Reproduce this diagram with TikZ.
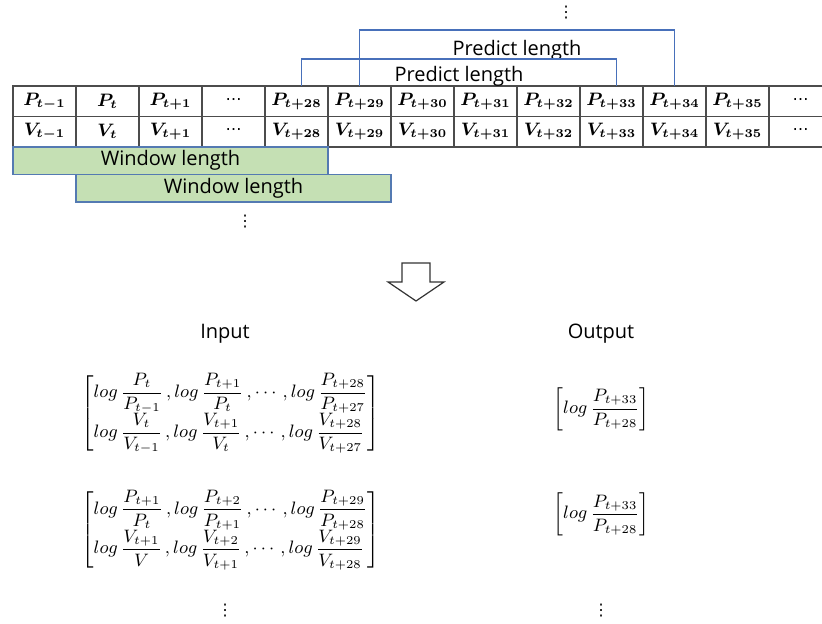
\documentclass[tikz,border=0pt]{standalone}
\usepackage{amsmath}
\usepackage{bm}
\usepackage{fontspec}
\setsansfont{Open Sans}
\newfontfamily\dotfont{DejaVu Sans}
\usetikzlibrary{positioning}

\definecolor{winfill}{RGB}{197,224,180}
\definecolor{winline}{RGB}{84,122,178}
\definecolor{predline}{RGB}{72,112,186}
\newcommand{\pcell}[1]{$\bm{P_{#1}}$}
\newcommand{\vcell}[1]{$\bm{V_{#1}}$}
\newcommand{\celldots}{{\dotfont\fontsize{8}{8}\selectfont ⋯}}
\newcommand{\logfrac}[2]{log\,\dfrac{#1}{#2}}
\newcommand{\moredots}{{\dotfont ⋮}}

\begin{document}
\begin{tikzpicture}[x=0.5pt, y=0.5pt,
  cell/.style = {draw = black!70, line width = 0.8pt, shape = rectangle, minimum width = 31.5pt, minimum height = 15.25pt, inner sep = 0pt, outer sep = 0pt, font = \fontsize{9}{10}\selectfont},
  window/.style = {draw = winline, fill = winfill, line width = 0.6pt, shape = rectangle, minimum width = 157.5pt, minimum height = 13.75pt, inner sep = 0pt, outer sep = 0pt, font = \sffamily\fontsize{10}{12}\selectfont},
  predict/.style = {draw = predline, line width = 0.6pt},
  lbl/.style = {font = \sffamily\fontsize{10}{12}\selectfont},
  vdot/.style = {font = \fontsize{8}{8}\selectfont, inner sep = 0pt},
  mat/.style = {inner sep = 0pt, font = \fontsize{8.8}{10.5}\selectfont}]
\useasboundingbox (0,0) rectangle (822,624);

% price row
\node[cell] (pm1) at (44.5,522.75) {\pcell{t-1}};
\node[cell, right = 0pt of pm1] (p0) {\pcell{t}};
\node[cell, right = 0pt of p0] (p1) {\pcell{t+1}};
\node[cell, right = 0pt of p1] (pdots) {\celldots};
\node[cell, right = 0pt of pdots] (p28) {\pcell{t+28}};
\node[cell, right = 0pt of p28] (p29) {\pcell{t+29}};
\node[cell, right = 0pt of p29] (p30) {\pcell{t+30}};
\node[cell, right = 0pt of p30] (p31) {\pcell{t+31}};
\node[cell, right = 0pt of p31] (p32) {\pcell{t+32}};
\node[cell, right = 0pt of p32] (p33) {\pcell{t+33}};
\node[cell, right = 0pt of p33] (p34) {\pcell{t+34}};
\node[cell, right = 0pt of p34] (p35) {\pcell{t+35}};
\node[cell, right = 0pt of p35] (pend) {\celldots};

% volume row
\node[cell, below = 0pt of pm1] (vm1) {\vcell{t-1}};
\node[cell, below = 0pt of p0] (v0) {\vcell{t}};
\node[cell, below = 0pt of p1] (v1) {\vcell{t+1}};
\node[cell, below = 0pt of pdots] (vdots) {\celldots};
\node[cell, below = 0pt of p28] (v28) {\vcell{t+28}};
\node[cell, below = 0pt of p29] (v29) {\vcell{t+29}};
\node[cell, below = 0pt of p30] (v30) {\vcell{t+30}};
\node[cell, below = 0pt of p31] (v31) {\vcell{t+31}};
\node[cell, below = 0pt of p32] (v32) {\vcell{t+32}};
\node[cell, below = 0pt of p33] (v33) {\vcell{t+33}};
\node[cell, below = 0pt of p34] (v34) {\vcell{t+34}};
\node[cell, below = 0pt of p35] (v35) {\vcell{t+35}};
\node[cell, below = 0pt of pend] (vend) {\celldots};

% windows
\node[window, anchor = north west] (win1) at (vm1.south west) {Window length};
\node[window, anchor = north west] (win2) at (win1.south -| vm1.east) {Window length};
\node[vdot] (windots) at (245,402) {\moredots};

% predict lengths
\coordinate (instart) at ([xshift = 2.5pt]p28.north);
\coordinate (inend) at ([xshift = 2.5pt]p33.north);
\draw[predict] (p29.north) -- ++(0,56) coordinate (outtop)
  -- node[lbl, below = 1.5pt] (predout) {Predict length} (outtop -| p34.north) -- (p34.north);
\draw[predict] (instart) -- ++(0,27) coordinate (intop)
  -- node[lbl, below = 0pt] (predin) {Predict length} (intop -| inend) -- (inend);
\node[vdot] (preddots) at (566,611) {\moredots};

% hollow arrow
\draw[line width = 0.6pt, black!80] (402,361) -- (430,361) -- (430,342) -- (444,342) -- (416,323)
  -- (388,342) -- (402,342) -- cycle;

% input / output
\node[lbl] (inlbl) at (225,290) {Input};
\node[lbl] (outlbl) at (601,290) {Output};

\node[mat] (in1) at (230.5,210.5) {$\left[\begin{array}{@{}l@{}}
  \logfrac{P_t}{P_{t-1}}\,, \logfrac{P_{t+1}}{P_t}\,, \cdots, \logfrac{P_{t+28}}{P_{t+27}}\\[3pt]
  \logfrac{V_t}{V_{t-1}}\,, \logfrac{V_{t+1}}{V_t}\,, \cdots, \logfrac{V_{t+28}}{V_{t+27}}
  \end{array}\right]$};
\node[mat] (in2) at (230.5,94) {$\left[\begin{array}{@{}l@{}}
  \logfrac{P_{t+1}}{P_t}\,, \logfrac{P_{t+2}}{P_{t+1}}\,, \cdots, \logfrac{P_{t+29}}{P_{t+28}}\\[3pt]
  \logfrac{V_{t+1}}{V}\,, \logfrac{V_{t+2}}{V_{t+1}}\,, \cdots, \logfrac{V_{t+29}}{V_{t+28}}
  \end{array}\right]$};
\node[mat] (out1) at (601.5,215) {$\left[\logfrac{P_{t+33}}{P_{t+28}}\right]$};
\node[mat] (out2) at (601.5,109.5) {$\left[\logfrac{P_{t+33}}{P_{t+28}}\right]$};

\node[vdot] (indots) at (225,13) {\moredots};
\node[vdot] (outdots) at (601,13) {\moredots};
\end{tikzpicture}
\end{document}
